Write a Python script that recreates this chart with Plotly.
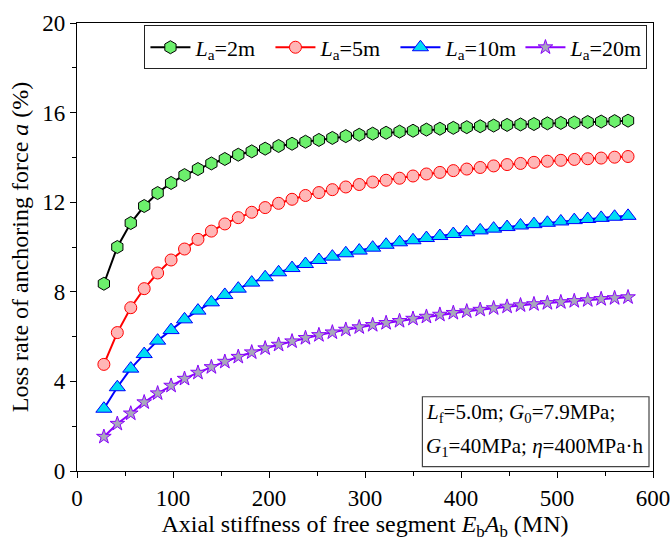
import plotly.graph_objects as go

x_vals = [28, 42, 56, 70, 84, 98, 112, 126, 140, 154, 168, 182, 196, 210, 224, 238,
          252, 266, 280, 294, 308, 322, 336, 350, 364, 378, 392, 406, 420, 434, 448,
          462, 476, 490, 504, 518, 532, 546, 560, 574]

la2 = [8.36, 10.00, 11.07, 11.83, 12.41, 12.86, 13.21, 13.48, 13.73, 13.93, 14.12, 14.27,
       14.39, 14.51, 14.61, 14.70, 14.78, 14.87, 14.95, 15.01, 15.06, 15.10, 15.15, 15.19,
       15.24, 15.28, 15.32, 15.35, 15.39, 15.42, 15.45, 15.47, 15.49, 15.52, 15.54, 15.56,
       15.58, 15.60, 15.62, 15.64]

la5 = [4.76, 6.18, 7.29, 8.14, 8.84, 9.42, 9.91, 10.34, 10.71, 11.03, 11.31, 11.55,
       11.76, 11.95, 12.13, 12.30, 12.43, 12.56, 12.68, 12.79, 12.90, 12.98, 13.07, 13.17,
       13.26, 13.33, 13.41, 13.48, 13.55, 13.62, 13.68, 13.73, 13.78, 13.83, 13.87, 13.91,
       13.94, 13.97, 14.01, 14.04]

la10 = [2.78, 3.74, 4.57, 5.22, 5.82, 6.29, 6.77, 7.16, 7.53, 7.86, 8.14, 8.41,
        8.65, 8.87, 9.06, 9.24, 9.42, 9.57, 9.72, 9.84, 9.97, 10.10, 10.21, 10.30,
        10.40, 10.49, 10.58, 10.66, 10.74, 10.82, 10.89, 10.96, 11.02, 11.08, 11.14, 11.20,
        11.25, 11.30, 11.35, 11.39]

la20 = [1.53, 2.11, 2.57, 3.07, 3.47, 3.81, 4.12, 4.39, 4.64, 4.88, 5.10, 5.30,
        5.48, 5.64, 5.79, 5.94, 6.07, 6.19, 6.31, 6.42, 6.52, 6.61, 6.70, 6.80,
        6.89, 6.98, 7.06, 7.13, 7.20, 7.27, 7.34, 7.40, 7.45, 7.50, 7.54, 7.59,
        7.63, 7.68, 7.72, 7.76]

names = ["<i>L</i><sub>a</sub>=2m", "<i>L</i><sub>a</sub>=5m",
         "<i>L</i><sub>a</sub>=10m", "<i>L</i><sub>a</sub>=20m"]

FONT = "Liberation Serif"

styles = [
    dict(line="#000000", fill="#6CF06C", edge="#000000", symbol="hexagon", size=13),
    dict(line="#FF0000", fill="#FFB6B6", edge="#FF0000", symbol="circle", size=12),
    dict(line="#0000FF", fill="#00DDF2", edge="#0000FF", symbol="triangle-up", size=14),
    dict(line="#8A00FF", fill="#A8A8BC", edge="#8A00FF", symbol="star", size=11),
]

fig = go.Figure()
for ys, nm, st in zip([la2, la5, la10, la20], names, styles):
    fig.add_trace(go.Scatter(
        x=x_vals, y=ys, name=nm, mode="lines+markers",
        line=dict(color=st["line"], width=2),
        marker=dict(symbol=st["symbol"], size=st["size"], color=st["fill"],
                    line=dict(color=st["edge"], width=1)),
    ))

axis_common = dict(
    showline=True, linecolor="black", linewidth=1.3, mirror=True,
    ticks="outside", ticklen=6, tickwidth=1.3, tickcolor="black",
    showgrid=False, zeroline=False, automargin=False,
    tickfont=dict(family=FONT, size=23, color="black"),
)

fig.update_xaxes(
    range=[0, 600], tickvals=[0, 100, 200, 300, 400, 500, 600],
    minor=dict(ticks="outside", ticklen=4, tickwidth=1.2, tickcolor="black",
               tickvals=[50, 150, 250, 350, 450, 550]),
    title=dict(text="Axial stiffness of free segment <i>E</i><sub>b</sub><i>A</i><sub>b</sub> (MN)",
               font=dict(family=FONT, size=24, color="black"), standoff=6),
    **axis_common,
)
fig.update_yaxes(
    range=[0, 20], tickvals=[0, 4, 8, 12, 16, 20],
    minor=dict(ticks="outside", ticklen=4, tickwidth=1.2, tickcolor="black",
               tickvals=[2, 6, 10, 14, 18]),
    title=dict(text="Loss rate of anchoring force <i>a</i> (%)",
               font=dict(family=FONT, size=24, color="black"), standoff=6),
    **axis_common,
)

fig.add_shape(type="rect", xref="paper", yref="paper",
              x0=(422.7 - 77.3) / 576, x1=(649.3 - 77.3) / 576,
              y0=(471 - 466.7) / 448.3, y1=(471 - 396.7) / 448.3,
              line=dict(color="#444444", width=1.2), fillcolor="white")
fig.add_annotation(xref="paper", yref="paper", x=(424 - 77.3) / 576, y=(471 - 413) / 448.3,
                   xanchor="left", yanchor="middle", showarrow=False,
                   text="<i>L</i><sub>f</sub>=5.0m; <i>G</i><sub>0</sub>=7.9MPa;",
                   font=dict(family=FONT, size=21, color="black"))
fig.add_annotation(xref="paper", yref="paper", x=(424 - 77.3) / 576, y=(471 - 447) / 448.3,
                   xanchor="left", yanchor="middle", showarrow=False,
                   text="<i>G</i><sub>1</sub>=40MPa; <i>η</i>=400MPa·h",
                   font=dict(family=FONT, size=21, color="black"))

fig.update_layout(
    width=671, height=541,
    margin=dict(l=77.3, r=17.7, t=22.7, b=70),
    plot_bgcolor="white", paper_bgcolor="white",
    font=dict(family=FONT, color="black"),
    legend=dict(orientation="h", x=0.99, xanchor="right", y=0.995, yanchor="top",
                bordercolor="#222222", borderwidth=1.2, bgcolor="white",
                font=dict(family=FONT, size=22, color="black"),
                itemwidth=40, tracegroupgap=0, entrywidth=70, entrywidthmode="pixels"),
)

fig.write_html("out.html")
